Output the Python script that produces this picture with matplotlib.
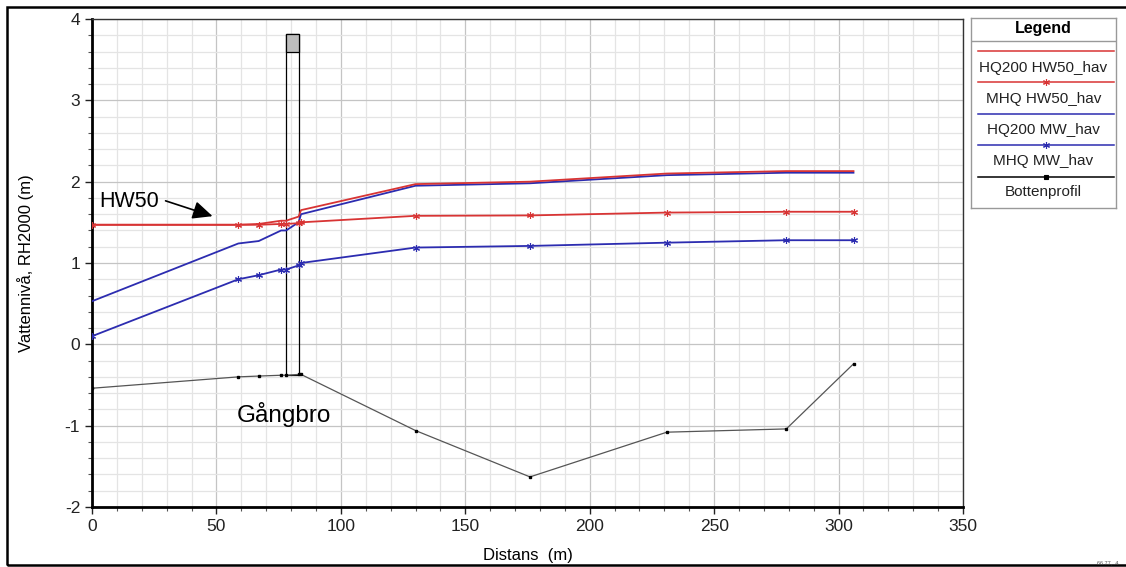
import matplotlib
matplotlib.use("Agg")
import matplotlib.pyplot as plt
from matplotlib.patches import Rectangle
from matplotlib.ticker import MultipleLocator

plt.rcParams['font.family'] = ['Liberation Sans', 'DejaVu Sans']
plt.rcParams['axes.unicode_minus'] = False

# ---- data ----
stations = [0, 58.8, 67, 76, 78, 83, 84, 130, 176, 231, 279, 306]
hq200_hw50 = [1.47, 1.47, 1.48, 1.52, 1.52, 1.57, 1.65, 1.97, 2.00, 2.10, 2.13, 2.13]
mhq_hw50 = [1.47, 1.47, 1.47, 1.48, 1.48, 1.49, 1.50, 1.58, 1.585, 1.62, 1.63, 1.63]
hq200_mw = [0.53, 1.24, 1.27, 1.40, 1.40, 1.50, 1.60, 1.95, 1.98, 2.08, 2.11, 2.11]
mhq_mw = [0.10, 0.80, 0.85, 0.92, 0.92, 0.97, 1.00, 1.19, 1.21, 1.25, 1.28, 1.28]
bottom = [-0.54, -0.40, -0.39, -0.38, -0.38, -0.37, -0.37, -1.06, -1.63, -1.08, -1.04, -0.24]

bridge_x = [78, 83]
bridge_y = [-0.38, 3.82]
deck_bottom = 3.6

series_labels = ["HQ200 HW50_hav", "MHQ HW50_hav", "HQ200 MW_hav", "MHQ MW_hav", "Bottenprofil"]

RED = '#d83434'
BLUE = '#2c2cb0'
AST = (6, 2, 0)

fig = plt.figure(figsize=(11.26, 5.67), dpi=100)

# outer frame
fig.patches.append(Rectangle((7/1126, 2/567), 1.2, 558/567, transform=fig.transFigure,
                             fill=False, edgecolor='black', linewidth=1.8, zorder=0))

ax = fig.add_axes([92/1126, 1-507/567, 871/1126, 488/567])
ax.set_xlim(0, 350)
ax.set_ylim(-2, 4)
ax.xaxis.set_major_locator(MultipleLocator(50))
ax.xaxis.set_minor_locator(MultipleLocator(10))
ax.yaxis.set_major_locator(MultipleLocator(1))
ax.yaxis.set_minor_locator(MultipleLocator(0.2))
ax.grid(which='major', color='#c4c4c4', linewidth=0.9, zorder=0)
ax.grid(which='minor', color='#e4e4e4', linewidth=0.9, zorder=0)
ax.set_axisbelow(True)
ax.tick_params(which='major', direction='out', length=5, width=1, labelsize=12.5, colors='#222222')
ax.tick_params(which='minor', direction='out', length=3, width=0.8, colors='#555555')
for s in ['left', 'bottom']:
    ax.spines[s].set_linewidth(2)
    ax.spines[s].set_color('black')
for s in ['top', 'right']:
    ax.spines[s].set_linewidth(1)
    ax.spines[s].set_color('#333333')

# bridge
ax.add_patch(Rectangle((bridge_x[0], bridge_y[0]), bridge_x[1]-bridge_x[0], bridge_y[1]-bridge_y[0],
                       fill=False, edgecolor='black', linewidth=0.9, zorder=2))
ax.add_patch(Rectangle((bridge_x[0], deck_bottom), bridge_x[1]-bridge_x[0], bridge_y[1]-deck_bottom,
                       facecolor='#bdbdbd', edgecolor='black', linewidth=0.9, zorder=2))

ax.plot(stations, bottom, color='#555555', linewidth=0.9, marker='s', markersize=2,
        markerfacecolor='black', markeredgecolor='black', zorder=3)
ax.plot(stations, hq200_mw, color=BLUE, linewidth=1.3, zorder=4)
ax.plot(stations, mhq_mw, color=BLUE, linewidth=1.3, marker=AST, markersize=5,
        markeredgewidth=0.8, zorder=4)
ax.plot(stations, hq200_hw50, color=RED, linewidth=1.3, zorder=5)
ax.plot(stations, mhq_hw50, color=RED, linewidth=1.3, marker=AST, markersize=5,
        markeredgewidth=0.8, zorder=5)

ax.set_xlabel("Distans  (m)", fontsize=12, labelpad=10)
ax.set_ylabel("Vattennivå, RH2000 (m)", fontsize=12, labelpad=22)

ax.text(2.8, 1.76, "HW50", fontsize=15.5, va='center', ha='left')
ax.annotate("", xy=(49.5, 1.565), xytext=(28.5, 1.775),
            arrowprops=dict(arrowstyle='-|>,head_length=1.2,head_width=0.55', color='black', lw=1.2))
ax.text(58.3, -0.86, "Gångbro", fontsize=17.5, va='center', ha='left')

# legend (drawn manually)
lax = fig.add_axes([971/1126, 1-208/567, 145/1126, 190/567])
lax.set_xlim(971, 1116)
lax.set_ylim(208, 18)
lax.set_xticks([]); lax.set_yticks([])
for s in lax.spines.values():
    s.set_color('#999999'); s.set_linewidth(1)
lax.text(1043.5, 28.5, "Legend", fontsize=11.5, fontweight='bold', ha='center', va='center')
lax.plot([971, 1116], [41, 41], color='#999999', linewidth=1)
entry_styles = [
    dict(color=RED, marker=None),
    dict(color=RED, marker=AST),
    dict(color=BLUE, marker=None),
    dict(color=BLUE, marker=AST),
    dict(color='black', marker='s'),
]
line_ys = [50.7, 81.7, 114, 145, 176.7]
text_ys = [68, 98.5, 130, 161.5, 192]
for lbl, st, ly, ty in zip(series_labels, entry_styles, line_ys, text_ys):
    lax.plot([978, 1114], [ly, ly], color=st['color'], linewidth=1.1)
    if st['marker'] is not None:
        ms = 2.5 if st['marker'] == 's' else 5
        lax.plot([1046], [ly], color=st['color'], marker=st['marker'], markersize=ms,
                 markeredgewidth=0.8, linestyle='none')
    lax.text(1043.5, ty, lbl, fontsize=11, ha='center', va='center', color='#222222')

fig.text(1097/1126, 1-563/567, "66.77, .4", fontsize=4, color='#555555', va='center')

fig.savefig("out.png", dpi=100)
